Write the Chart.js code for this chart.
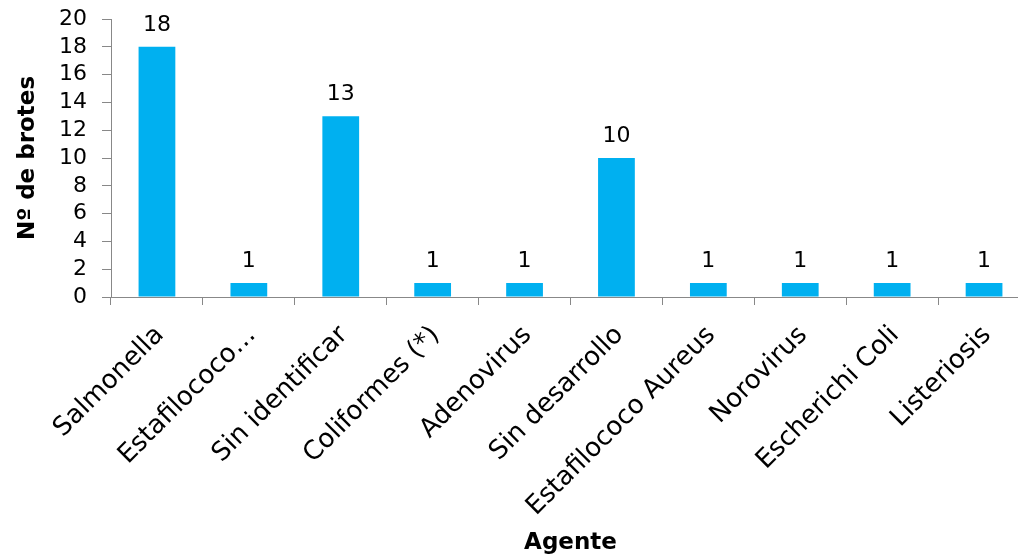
<!DOCTYPE html>
<html>
<head>
<meta charset="utf-8">
<script src="https://cdn.jsdelivr.net/npm/chart.js@4/dist/chart.umd.min.js"></script>
<style>
  html, body { margin: 0; padding: 0; background: #fff; overflow: hidden; }
  /* plot runs past the right edge of the window, as in the original */
  #wrap { width: 1030px; height: 559px; }
</style>
</head>
<body>
<div id="wrap"><canvas id="brotes"></canvas></div>
<script>
const agentes = ["Salmonella", "Estafilococo…", "Sin identificar", "Coliformes (*)", "Adenovirus",
                 "Sin desarrollo", "Estafilococo Aureus", "Norovirus", "Escherichi Coli", "Listeriosis"];
const brotes = [18, 1, 13, 1, 1, 10, 1, 1, 1, 1];

// values above each bar
const valueLabels = {
    id: "valueLabels",
    afterDatasetsDraw(chart) {
        const ctx = chart.ctx;
        const meta = chart.getDatasetMeta(0);
        ctx.save();
        ctx.font = "22px 'DejaVu Sans'";
        ctx.fillStyle = "#000";
        ctx.textAlign = "center";
        ctx.textBaseline = "alphabetic";
        meta.data.forEach(function (bar, i) {
            ctx.fillText(String(brotes[i]), bar.x, bar.y - 16);
        });
        ctx.restore();
    }
};

new Chart(document.getElementById("brotes"), {
    type: "bar",
    data: {
        labels: agentes,
        datasets: [{
            data: brotes,
            backgroundColor: "#00B0F0",
            barPercentage: 0.4,
            categoryPercentage: 1.0
        }]
    },
    options: {
        responsive: true,
        maintainAspectRatio: false,
        animation: false,
        layout: { padding: { top: 0, right: 0, left: 10, bottom: 0 } },
        plugins: {
            legend: { display: false },
            tooltip: { enabled: false }
        },
        scales: {
            x: {
                grid: { drawOnChartArea: false, color: "#888", tickLength: 8 },
                border: { color: "#888" },
                ticks: {
                    color: "#000",
                    padding: 15,
                    labelOffset: 3,
                    font: { family: "DejaVu Sans", size: 26 },
                    minRotation: 45,
                    maxRotation: 45,
                    autoSkip: false
                },
                title: {
                    display: true,
                    text: "Agente",
                    color: "#000",
                    padding: { top: 6, bottom: 2 },
                    font: { family: "DejaVu Sans", size: 23, weight: "bold" }
                },
                afterFit(scale) {
                    scale.height = 262;
                    scale.paddingLeft = 0;
                    scale.paddingRight = 0;
                }
            },
            y: {
                min: 0,
                max: 20,
                grid: { drawOnChartArea: false, color: "#888", tickLength: 9 },
                border: { color: "#888" },
                ticks: {
                    stepSize: 2,
                    autoSkip: false,
                    color: "#000",
                    padding: 15,
                    font: { family: "DejaVu Sans", size: 22 }
                },
                title: {
                    display: true,
                    text: "Nº de brotes",
                    color: "#000",
                    padding: { top: 4, bottom: 4 },
                    font: { family: "DejaVu Sans", size: 23, weight: "bold" }
                },
                afterFit(scale) {
                    scale.width = 101;
                    scale.paddingTop = 19;
                    scale.paddingBottom = 0;
                }
            }
        }
    },
    plugins: [valueLabels]
});
</script>
</body>
</html>
